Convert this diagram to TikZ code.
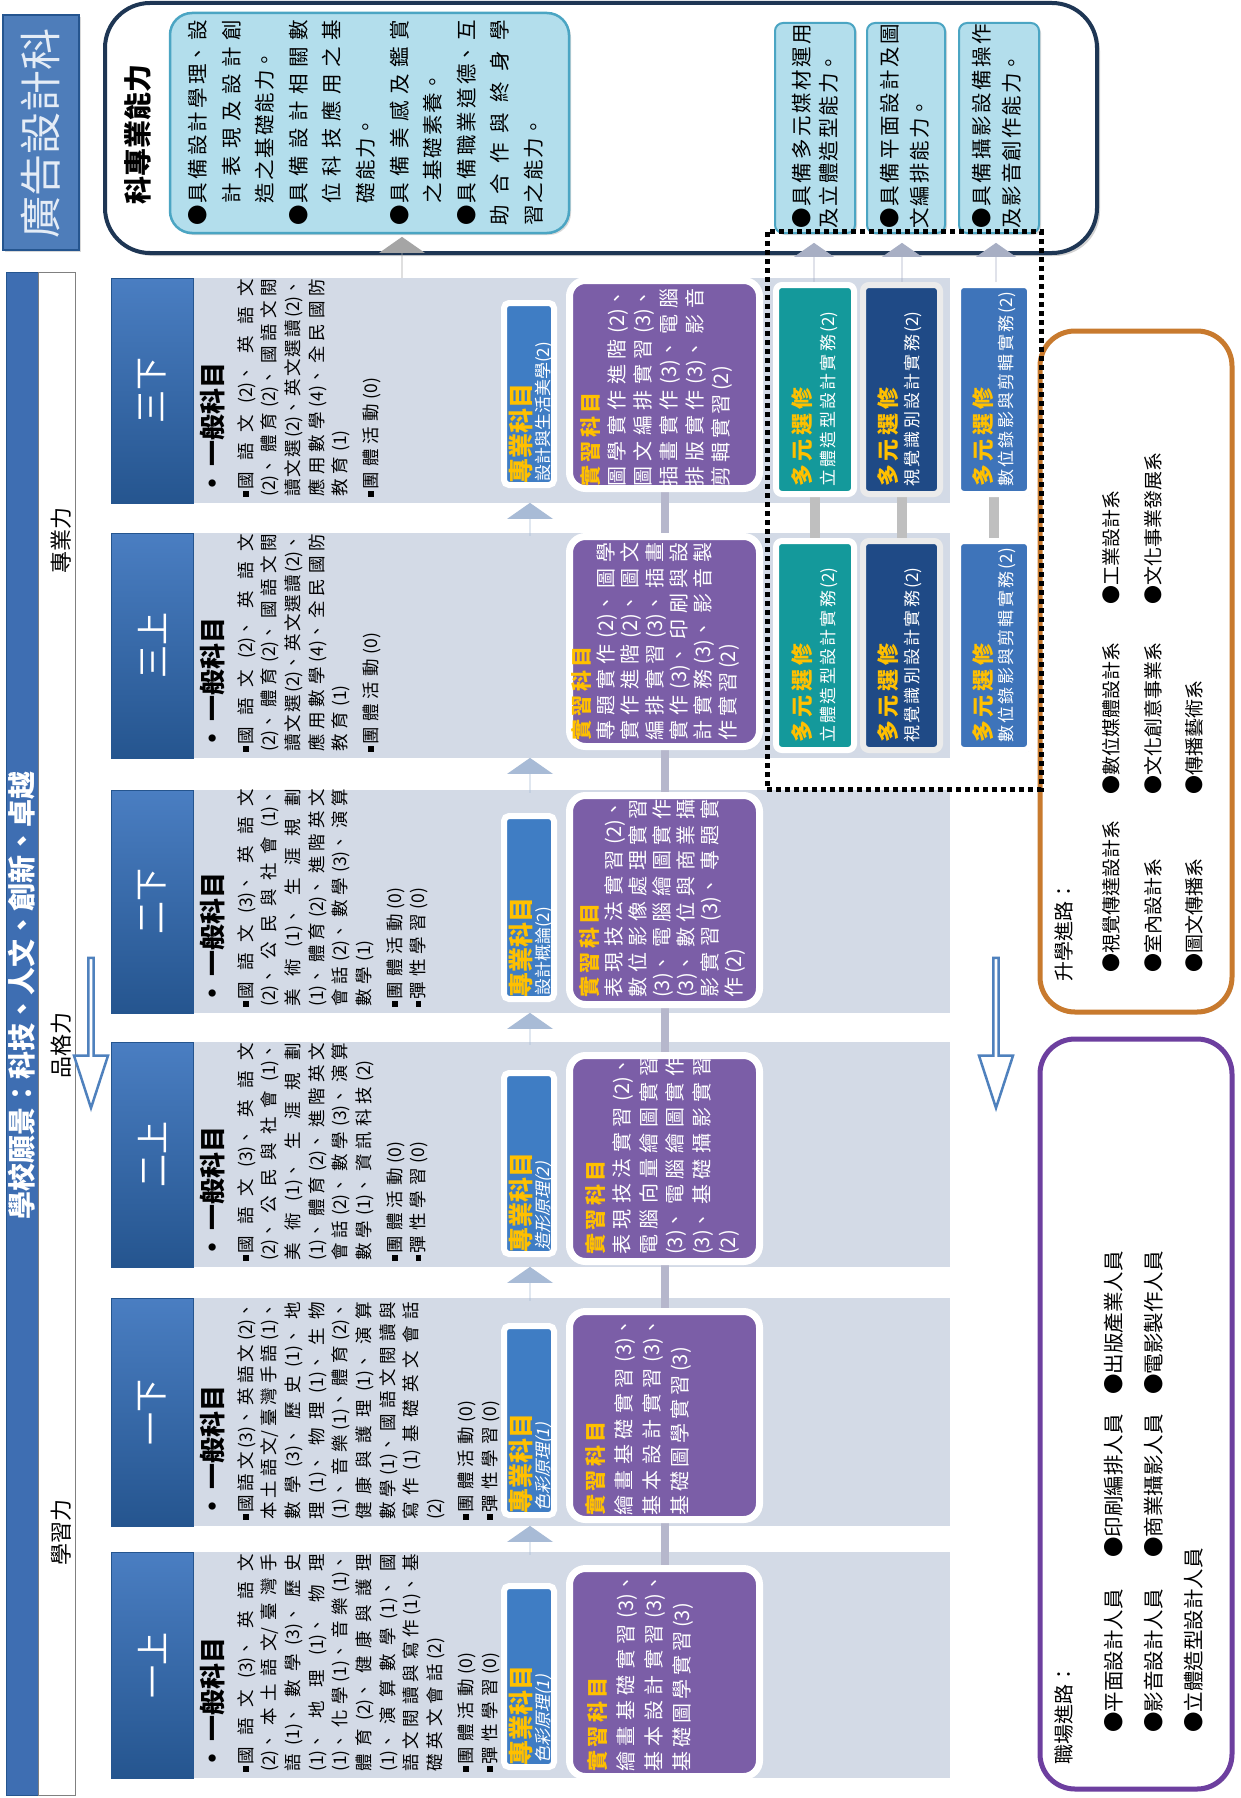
\documentclass[tikz,border=0pt]{standalone}
\usepackage{fontspec}
\setmainfont{Noto Sans CJK TC}
\newfontfamily\slf[FakeSlant=0.22]{Noto Sans CJK TC}
\usetikzlibrary{shadows,shapes.arrows}
\XeTeXlinebreaklocale "zh"
\XeTeXlinebreakskip=0pt plus 40pt\relax
\newcommand\fz[3]{\fontsize{#1pt}{#2pt}\selectfont\XeTeXlinebreakskip=#3pt plus 40pt minus #3pt\relax}
\newcommand\lb{\penalty-10000\relax}
\newcommand\sqb{\rule[0.2em]{0.32em}{0.32em}\hspace{0.1em}}
\newcommand\bul{\makebox[1.1em][l]{●}}
\newcommand\hb{\hangindent=1.1em\hangafter=1\relax}
\newcommand\pg{\endgraf\vspace{7pt}}
\definecolor{panelc}{HTML}{D3DAE6}
\definecolor{hdrl}{HTML}{4A7EC2}
\definecolor{hdrd}{HTML}{25558F}
\definecolor{purp}{HTML}{7B5EA7}
\definecolor{problue}{HTML}{3F7DC4}
\definecolor{tealbox}{HTML}{14999B}
\definecolor{navybox}{HTML}{1F4A86}
\definecolor{midbox}{HTML}{3E74BA}
\definecolor{gold}{HTML}{FFC000}
\definecolor{ltb}{HTML}{B3DEEC}
\definecolor{ltbd}{HTML}{4BA5C3}
\definecolor{navyln}{HTML}{1E3654}
\definecolor{colarrc}{HTML}{A8BBD6}
\definecolor{grayarr}{HTML}{A5A5A5}
\definecolor{skarr}{HTML}{A8AFC4}
\definecolor{connc}{HTML}{B6B7CC}
\definecolor{orangeb}{HTML}{C87A2E}
\definecolor{purpb}{HTML}{6D3F9F}
\definecolor{visionb}{HTML}{3E6EB2}
\definecolor{titleb}{HTML}{4E7DBA}
\definecolor{titlet}{HTML}{E4ECF6}
\definecolor{hollowb}{HTML}{4F81BD}
\pgfdeclarelayer{bg}\pgfdeclarelayer{cn}\pgfsetlayers{bg,cn,main}
\begin{document}
\begin{tikzpicture}[x=1pt,y=-1pt,
  rot/.style={rotate=90, inner sep=0pt},
  btxt/.style={rot, align=justify, anchor=north west},
  shd/.style={drop shadow={opacity=0.3, shadow xshift=2pt, shadow yshift=-2pt}},
  hdr/.style={rotate=90, inner sep=0pt, draw=hdrd, line width=1pt, top color=hdrl, bottom color=hdrd, text=white, font=\fz{33}{36}{6}, minimum height=82pt},
  purpbox/.style={fill=purp, draw=white, line width=7pt, rounded corners=16pt, shd, minimum width=190pt, inner sep=0pt},
  probox/.style={fill=problue, draw=white, line width=6pt, rounded corners=5pt, shd, minimum width=50pt, inner sep=0pt},
  selbox/.style={draw=white, line width=6pt, rounded corners=6pt, shd, inner sep=0pt, minimum height=209pt},
  skbox/.style={fill=ltb, draw=ltbd, line width=2pt, rounded corners=8pt, inner sep=0pt, shd},
  gtxt/.style={btxt, text width=218pt, font=\fz{17.5}{23.7}{5}},
  ptxt/.style={btxt, text width=198pt, text=white},
  zkh/.style={rot, anchor=west, text=gold, font=\bfseries\fz{25}{28}{6}},
  colarr/.style={single arrow, rotate=90, fill=colarrc, inner sep=0pt, minimum width=46pt, single arrow head extend=11pt, single arrow tip angle=110},
  skarrow/.style={single arrow, rotate=90, fill=skarr, inner sep=0pt, minimum width=40pt, single arrow head extend=10pt, single arrow tip angle=110, minimum height=39pt},
  hollow/.style={single arrow, rotate=-90, draw=hollowb, fill=white, line width=2.5pt, inner sep=0pt, minimum width=34pt, single arrow head extend=7pt, single arrow tip angle=36, minimum height=150pt},
  conn/.style={draw=connc, line width=8pt},
  lst/.style={rot, anchor=west, font=\fz{19}{22}{1.7}},
  lst2/.style={rot, anchor=west, font=\fz{20.5}{22}{4.3}}
]
\useasboundingbox (0,0) rectangle (1240,1798);
\begin{pgfonlayer}{bg}
\fill[white] (0,0) rectangle (1240,1798);
\foreach \yt/\yb in {1552/1778,1298/1526,1042/1267,790/1013,533/758,278/503}
  \fill[panelc] (193,\yt) rectangle (950,\yb);
\end{pgfonlayer}

% ---------- title and top competence box
\node[fill=titleb, draw=hdrd, line width=1.5pt, minimum width=76pt, minimum height=235pt, inner sep=0pt, shd] (titlebox) at (41,132.5) {};
\node[rot, text=titlet, font=\fz{42}{44}{3}] (titletxt) at (41,133) {廣告設計科};

\node[draw=navyln, line width=4pt, fill=white, rounded corners=45pt, minimum width=992pt, minimum height=250pt, inner sep=0pt, drop shadow={opacity=0.35, shadow xshift=3pt, shadow yshift=-3pt}] (bigbox) at (601,128) {};
\node[skbox, rounded corners=22pt, line width=2.5pt, minimum width=399pt, minimum height=220pt] (ltbox) at (369.5,123) {};
\node[rot, anchor=west, font=\bfseries\fz{28}{30}{4}] (kttl) at (138,205) {科專業能力};
\node[btxt, text width=206pt, font=\fz{20.5}{33.6}{2}] (kt) at (188,226) {%
\hb\bul 具備設計學理、設\lb 計表現及設計創\lb 造之基礎能力。\endgraf
\hb\bul 具備設計相關數\lb 位科技應用之基\lb 礎能力。\endgraf
\hb\bul 具備美感及鑑賞\lb 之基礎素養。\endgraf
\hb\bul 具備職業道德、互\lb 助合作與終身學\lb 習之能力。};

\node[skbox, minimum width=80pt, minimum height=210pt] (sk1) at (815,128) {};
\node[skbox, minimum width=78pt, minimum height=210pt] (sk2) at (906,128) {};
\node[skbox, minimum width=80pt, minimum height=210pt] (sk3) at (999,128) {};
\node[btxt, text width=205pt, font=\fz{20.5}{27}{2}] (sk1t) at (792,229) {\hb\bul 具備多元媒材運用\lb 及立體造型能力。};
\node[btxt, text width=205pt, font=\fz{20.5}{30}{2}] (sk2t) at (880,229) {\hb\bul 具備平面設計及圖\lb 文編排能力。};
\node[btxt, text width=205pt, font=\fz{20.5}{30}{2}] (sk3t) at (972,229) {\hb\bul 具備攝影設備操作\lb 及影音創作能力。};

% ---------- left vision bar
\node[fill=visionb, draw=hdrd, line width=0.8pt, minimum width=32pt, minimum height=1523pt, inner sep=0pt] (vision) at (22,1033.5) {};
\node[rot, text=white, font=\bfseries\fz{28}{30}{5.3}] (visiontxt) at (22,995) {學校願景：科技、人文、創新、卓越};
\node[fill=white, draw=gray, line width=0.8pt, minimum width=37pt, minimum height=1523pt, inner sep=0pt] (strip) at (56.5,1033.5) {};
\node[rot, font=\fz{22}{24}{6}] (zy) at (61,540) {專業力};
\node[rot, font=\fz{22}{24}{6}] (pg) at (61,1045) {品格力};
\node[rot, font=\fz{22}{24}{6}] (xx) at (61,1532) {學習力};

% ---------- column headers
\node[hdr, minimum width=226pt] (h1) at (152,1665) {一上};
\node[hdr, minimum width=228pt] (h2) at (152,1412) {一下};
\node[hdr, minimum width=225pt] (h3) at (152,1154.5) {二上};
\node[hdr, minimum width=223pt] (h4) at (152,901.5) {二下};
\node[hdr, minimum width=225pt] (h5) at (152,645.5) {三上};
\node[hdr, minimum width=225pt] (h6) at (152,390.5) {三下};

% ---------- general subjects
\foreach \n/\y in {1/1772,2/1520,3/1261,4/1007,5/752,6/497}
  \node[rot, anchor=west, font=\bfseries\fz{26}{28}{4.5}] (gh\n) at (213,\y) {•\,一般科目};

\node[gtxt] (g6) at (237,497) {\sqb 國語文(2)、英語文\lb(2)、體育(2)、國語文閱\lb 讀文選(2)、英文選讀(2)、\lb 應用數學(4)、全民國防\lb 教育(1)\pg\sqb 團體活動(0)};
\node[gtxt] (g5) at (237,752) {\sqb 國語文(2)、英語文\lb(2)、體育(2)、國語文閱\lb 讀文選(2)、英文選讀(2)、\lb 應用數學(4)、全民國防\lb 教育(1)\pg\sqb 團體活動(0)};
\node[gtxt] (g4) at (237,1007) {\sqb 國語文(3)、英語文\lb(2)、公民與社會(1)、\lb 美術(1)、生涯規劃\lb(1)、體育(2)、進階英文\lb 會話(2)、數學(3)、演算\lb 數學(1)\pg\sqb 團體活動(0)\endgraf\sqb 彈性學習(0)};
\node[gtxt] (g3) at (237,1261) {\sqb 國語文(3)、英語文\lb(2)、公民與社會(1)、\lb 美術(1)、生涯規劃\lb(1)、體育(2)、進階英文\lb 會話(2)、數學(3)、演算\lb 數學(1)、資訊科技(2)\pg\sqb 團體活動(0)\endgraf\sqb 彈性學習(0)};
\node[gtxt] (g2) at (237,1520) {\sqb 國語文(3)、英語文(2)、\lb 本土語文/臺灣手語(1)、\lb 數學(3)、歷史(1)、地\lb 理(1)、物理(1)、生物\lb(1)、音樂(1)、體育(2)、\lb 健康與護理(1)、演算\lb 數學(1)、國語文閱讀與\lb 寫作(1)基礎英文會話\lb(2)\pg\sqb 團體活動(0)\endgraf\sqb 彈性學習(0)};
\node[gtxt] (g1) at (237,1772) {\sqb 國語文(3)、英語文\lb(2)、本土語文/臺灣手\lb 語(1)、數學(3)、歷史\lb(1)、地理(1)、物理\lb(1)、化學(1)、音樂(1)、\lb 體育(2)、健康與護理\lb(1)、演算數學(1)、國\lb 語文閱讀與寫作(1)、基\lb 礎英文會話(2)\pg\sqb 團體活動(0)\endgraf\sqb 彈性學習(0)};

% ---------- professional subjects (blue)
\node[probox, minimum height=182pt] (b6) at (529,394) {};
\node[probox, minimum height=183pt] (b4) at (529,907.5) {};
\node[probox, minimum height=181pt] (b3) at (529,1163.5) {};
\node[probox, minimum height=189pt] (b2) at (529,1420.5) {};
\node[probox, minimum height=181pt] (b1) at (529,1676.5) {};
\foreach \n/\y in {6/484,4/998,3/1253,2/1514,1/1766}
  \node[zkh] (b\n h) at (521,\y) {專業科目};
\node[rot, anchor=west, text=white, font=\fz{17}{20}{3}] (b6s) at (544,482) {設計與生活美學(2)};
\node[rot, anchor=west, text=white, font=\fz{17}{20}{5.5}] (b4s) at (544,996) {設計概論(2)};
\node[rot, anchor=west, text=white, font=\slf\fz{17}{20}{9}] (b3s) at (544,1251) {造形原理(2)};
\node[rot, anchor=west, text=white, font=\slf\fz{17}{20}{11}] (b2s) at (544,1512) {色彩原理(1)};
\node[rot, anchor=west, text=white, font=\slf\fz{17}{20}{11}] (b1s) at (544,1764) {色彩原理(1)};

% ---------- practice subjects (purple)
\node[purpbox, minimum height=208pt] (p6) at (664.5,384.5) {};
\node[purpbox, minimum height=210pt] (p5) at (664.5,641.5) {};
\node[purpbox, minimum height=209pt] (p4) at (664.5,900) {};
\node[purpbox, minimum height=206pt] (p3) at (664.5,1158.5) {};
\node[purpbox, minimum height=208pt] (p2) at (664.5,1415.5) {};
\node[purpbox, minimum height=208pt] (p1) at (664.5,1672.5) {};
\newcommand\ph{\color{gold}\bfseries\fz{21}{26}{3.5}實習科目}
\node[ptxt, font=\fz{20}{26}{4}] (p6t) at (580,487) {{\ph}\endgraf 圖學實作進階(2)、\lb 圖文編排實習(3)、\lb 插畫實作(3)、電腦\lb 排版實作(3)、影音\lb 剪輯實習(2)};
\node[ptxt, font=\fz{20}{24.3}{4}] (p5t) at (571,741) {{\ph}\endgraf 專題實作(2)、圖學\lb 實作進階(2)、圖文\lb 編排實習(3)、插畫\lb 實作(3)、印刷與設\lb 計實務(3)、影音製\lb 作實習(2)};
\node[ptxt, font=\fz{20}{24}{4}] (p4t) at (579,998) {{\ph}\endgraf 表現技法實習(2)、\lb 數位影像處理實習\lb(3)、電腦繪圖實作\lb(3)、數位與商業攝\lb 影實習(3)、專題實\lb 作(2)};
\node[ptxt, font=\fz{20}{26.5}{4}] (p3t) at (585,1255) {{\ph}\endgraf 表現技法實習(2)、\lb 電腦向量繪圖實習\lb(3)、電腦繪圖實作\lb(3)、基礎攝影實習\lb(2)};
\node[ptxt, font=\fz{20}{28}{4}] (p2t) at (585,1516) {{\ph}\endgraf 繪畫基礎實習(3)、\lb 基本設計實習(3)、\lb 基礎圖學實習(3)};
\node[ptxt, font=\fz{20}{28}{4}] (p1t) at (587,1772) {{\ph}\endgraf 繪畫基礎實習(3)、\lb 基本設計實習(3)、\lb 基礎圖學實習(3)};

% ---------- elective boxes
\node[selbox, fill=tealbox, minimum width=78pt] (mt1) at (815,389.5) {};
\node[selbox, fill=navybox, draw=black!8, minimum width=77pt] (mt2) at (901.5,389.5) {};
\node[selbox, fill=midbox, minimum width=72pt] (mt3) at (994,389.5) {};
\node[selbox, fill=tealbox, minimum width=78pt] (mb1) at (815,645.5) {};
\node[selbox, fill=navybox, draw=black!8, minimum width=77pt] (mb2) at (901.5,645.5) {};
\node[selbox, fill=midbox, minimum width=72pt] (mb3) at (994,645.5) {};
\newcommand\mh{\color{gold}\bfseries\fz{22}{25}{3.7}多元選修}
\foreach \r/\y in {t/487,b/743}{
  \node[btxt, text width=200pt, text=white, font=\fz{17}{24}{2.3}] (m\r 1t) at (791,\y) {{\mh}\endgraf 立體造型設計實務(2)};
  \node[btxt, text width=200pt, text=white, font=\fz{17}{22}{2.3}] (m\r 2t) at (877,\y) {{\mh}\endgraf 視覺識別設計實務(2)};
  \node[btxt, text width=200pt, text=white, font=\fz{17}{21}{2.3}] (m\r 3t) at (972,\y) {{\mh}\endgraf 數位錄影與剪輯實務(2)};
}

% ---------- arrows
\node[colarr, minimum height=33pt] (a65) at (530,519.5) {};
\node[colarr, minimum height=35pt] (a54) at (530,775.5) {};
\node[colarr, minimum height=32pt] (a43) at (530,1029) {};
\node[colarr, minimum height=34pt] (a32) at (530,1284) {};
\node[colarr, minimum height=29pt] (a21) at (530,1540.5) {};
\node[single arrow, rotate=90, fill=grayarr, inner sep=0pt, minimum width=46pt, single arrow head extend=12pt, single arrow tip angle=110, minimum height=41pt] (atop) at (402,257.5) {};
\node[skarrow] (ask1) at (814,262.5) {};
\node[skarrow] (ask2) at (902,262.5) {};
\node[skarrow] (ask3) at (996,262.5) {};
\node[hollow] (ha1) at (91,1029) {};
\node[hollow] (ha2) at (996,1029) {};

% ---------- pathway boxes
\node[draw=orangeb, line width=5pt, fill=white, rounded corners=35pt, minimum width=192pt, minimum height=681pt, inner sep=0pt, shd] (sx) at (1136,671.5) {};
\node[draw=purpb, line width=5pt, fill=white, rounded corners=35pt, minimum width=192pt, minimum height=750pt, inner sep=0pt, shd] (zc) at (1136,1414) {};
\node[rot, anchor=west, font=\fz{20}{22}{3}] (sx0) at (1064,982) {升學進路：};
\node[lst] (sx1) at (1111,973) {●視覺傳達設計系};
\node[lst] (sx2) at (1111,795) {●數位媒體設計系};
\node[lst] (sx3) at (1111,605) {●工業設計系};
\node[lst] (sx4) at (1153,973) {●室內設計系};
\node[lst] (sx5) at (1153,795) {●文化創意事業系};
\node[lst] (sx6) at (1153,605) {●文化事業發展系};
\node[lst] (sx7) at (1194,973) {●圖文傳播系};
\node[lst] (sx8) at (1194,795) {●傳播藝術系};
\node[rot, anchor=west, font=\fz{20}{22}{2}] (zc0) at (1064,1765) {職場進路：};
\node[lst2] (zc1) at (1114,1733) {●平面設計人員};
\node[lst2] (zc2) at (1114,1558) {●印刷編排人員};
\node[lst2] (zc3) at (1114,1395) {●出版產業人員};
\node[lst2] (zc4) at (1154,1733) {●影音設計人員};
\node[lst2] (zc5) at (1154,1558) {●商業攝影人員};
\node[lst2] (zc6) at (1154,1395) {●電影製作人員};
\node[lst2] (zc7) at (1194,1733) {●立體造型設計人員};

% ---------- dotted frame
\node[draw=black, line width=5pt, dash pattern=on 5pt off 4pt, minimum width=274pt, minimum height=558pt, inner sep=0pt] (dotbox) at (904,510) {};

% ---------- connectors behind boxes
\begin{pgfonlayer}{cn}
\draw[conn] (p6) -- (p5);
\draw[conn] (p5) -- (p4);
\draw[conn] (p4) -- (p3);
\draw[conn] (p3) -- (p2);
\draw[conn] (p2) -- (p1);
\draw[conn, line width=10pt, draw=black!25] (mt1) -- (mb1);
\draw[conn, line width=10pt, draw=black!25] (mt2) -- (mb2);
\draw[conn, line width=10pt, draw=black!25] (mt3) -- (mb3);
\end{pgfonlayer}
\end{tikzpicture}
\end{document}
